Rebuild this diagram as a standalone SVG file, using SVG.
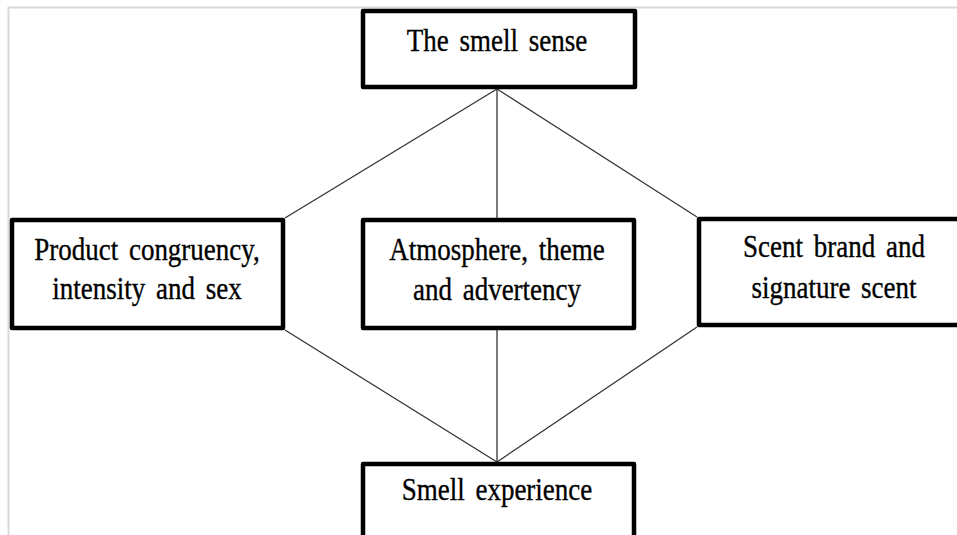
<svg xmlns="http://www.w3.org/2000/svg" width="957" height="535" viewBox="0 0 957 535">
  <style>
    .page { fill: none; stroke: #d9d9d9; stroke-width: 2; }
    .box { fill: #ffffff; stroke: #000000; stroke-width: 4.5; stroke-linejoin: round; }
    .link { fill: none; stroke: #333333; stroke-width: 1.3; }
    .label { font-family: "Liberation Serif", "Times New Roman", serif; font-size: 27px; fill: #000000; stroke: #000000; stroke-width: 0.3; text-anchor: middle; word-spacing: 4px; }
  </style>
  <rect width="957" height="535" fill="#ffffff"/>
  <path class="page" d="M8.5 535 V7.5 H957"/>

  <g id="connectors">
    <line class="link" x1="497" y1="89" x2="285" y2="218"/>
    <line class="link" x1="497" y1="89" x2="497" y2="218"/>
    <line class="link" x1="497" y1="89" x2="697" y2="217"/>
    <line class="link" x1="285" y1="330" x2="497" y2="462"/>
    <line class="link" x1="497" y1="330" x2="497" y2="462"/>
    <line class="link" x1="697" y1="327" x2="497" y2="462"/>
  </g>

  <g id="smell-sense">
    <rect class="box" x="363" y="11" width="272" height="76"/>
    <text class="label" transform="translate(497,51) scale(1,1.15)">The smell sense</text>
  </g>

  <g id="product-congruency">
    <rect class="box" x="12" y="220" width="271" height="108"/>
    <text class="label" transform="translate(147,260) scale(1,1.15)">Product congruency,</text>
    <text class="label" transform="translate(147,299) scale(1,1.15)">intensity and sex</text>
  </g>

  <g id="atmosphere">
    <rect class="box" x="363" y="220" width="271" height="108"/>
    <text class="label" transform="translate(497,260) scale(1,1.15)">Atmosphere, theme</text>
    <text class="label" transform="translate(497,300) scale(1,1.15)">and advertency</text>
  </g>

  <g id="scent-brand">
    <rect class="box" x="699" y="219" width="272" height="106"/>
    <text class="label" transform="translate(834,257) scale(1,1.15)">Scent brand and</text>
    <text class="label" transform="translate(834,298) scale(1,1.15)">signature scent</text>
  </g>

  <g id="smell-experience">
    <rect class="box" x="363" y="464" width="271" height="90"/>
    <text class="label" transform="translate(497,500) scale(1,1.15)">Smell experience</text>
  </g>
</svg>
